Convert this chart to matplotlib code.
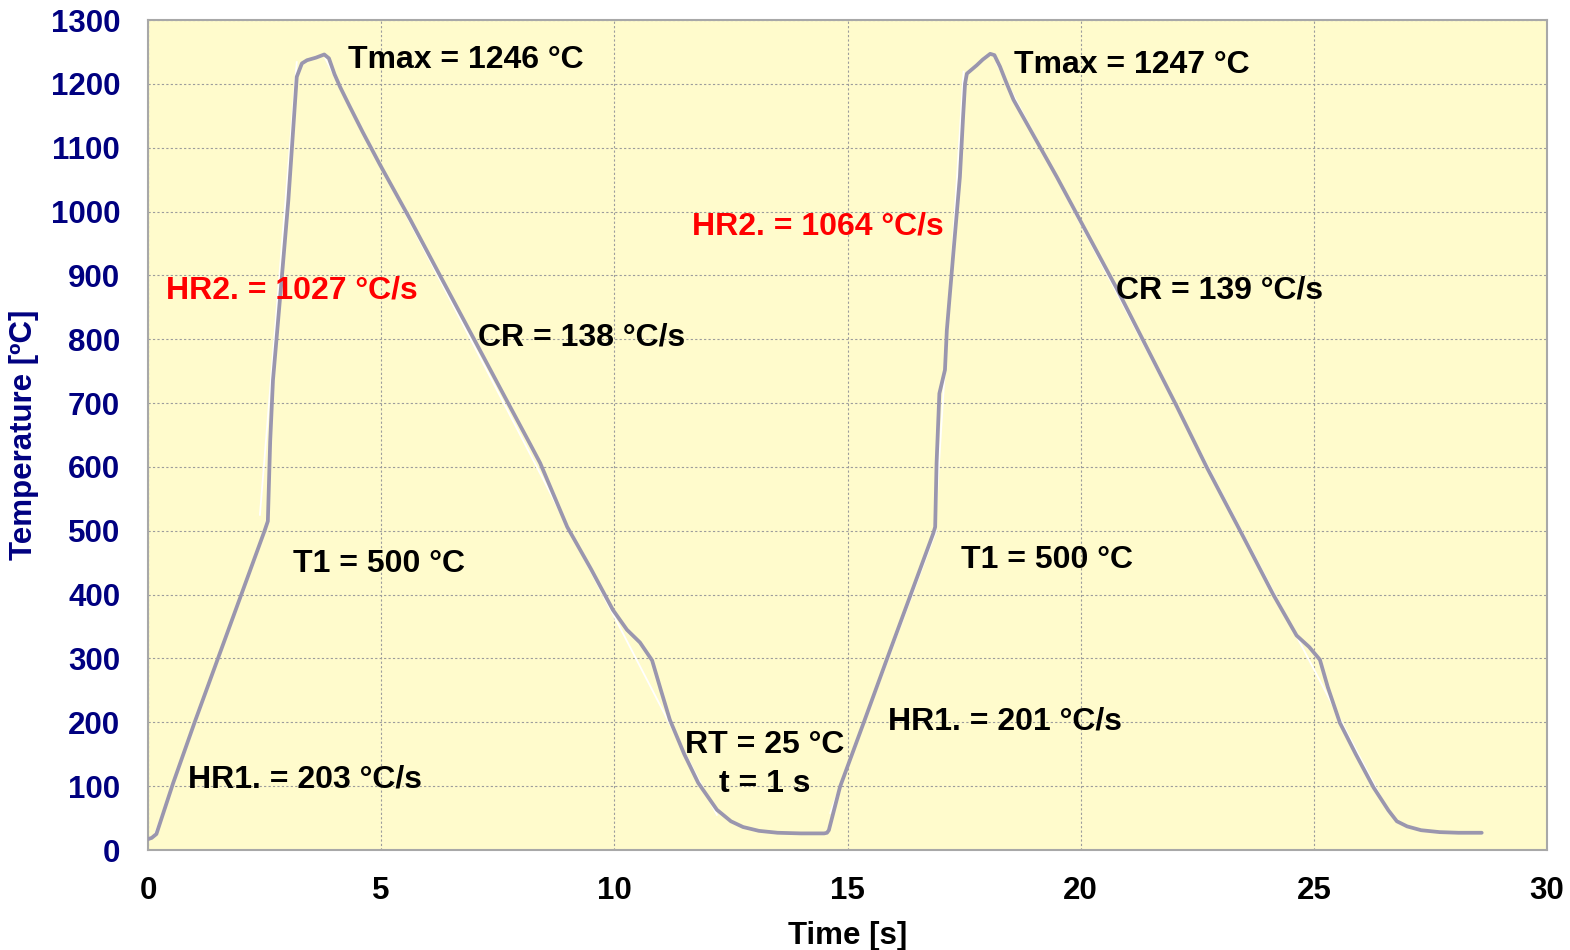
import matplotlib
matplotlib.use("Agg")
import matplotlib.pyplot as plt
import numpy as np

plt.rcParams['font.family'] = ['Liberation Sans', 'DejaVu Sans']
plt.rcParams['font.weight'] = 'bold'

# measured thermal cycle (gray curve)
time_meas = [0.0, 0.08, 0.18, 0.54, 1.0, 1.5, 2.0, 2.5, 2.57, 2.62, 2.68, 2.85, 3.01, 3.19, 3.3, 3.41, 3.6, 3.78,
             3.88, 4.0, 4.12, 4.33, 4.6, 4.97, 5.62, 6.26, 6.97, 7.70, 8.2, 8.41, 8.99, 9.5, 9.97, 10.27, 10.55,
             10.81, 11.0, 11.19, 11.5, 11.8, 12.2, 12.5, 12.76, 13.1, 13.5, 14.0, 14.5, 14.56,
             14.6, 14.84, 15.34, 15.84, 16.34, 16.84, 16.88, 16.91, 16.97, 17.09, 17.13, 17.27, 17.41, 17.48,
             17.52, 17.56, 17.77, 17.9, 18.06, 18.15, 18.27, 18.4, 18.56, 19.49, 20.77, 22.06, 22.70, 23.42,
             24.13, 24.63, 24.9, 25.13, 25.3, 25.56, 25.9, 26.28, 26.6, 26.78, 27.0, 27.3,
             27.7, 28.1, 28.6]
temp_meas = [17, 19, 25, 105, 200, 300, 400, 500, 515, 640, 736, 880, 1018, 1211, 1232, 1237, 1241, 1246,
             1240, 1215, 1195, 1164, 1125, 1074, 988, 900, 803, 703, 635, 606, 506, 440, 376, 345, 325,
             297, 250, 204, 150, 105, 63, 45, 36, 30, 27, 26, 26, 27,
             31, 99, 198, 298, 397, 496, 506, 606, 715, 752, 814, 935, 1054, 1150,
             1200, 1216, 1229, 1238, 1247, 1245, 1227, 1203, 1175, 1054, 880, 695, 600, 500,
             400, 336, 318, 298, 255, 199, 150, 98, 62, 45, 37, 31,
             28, 27, 27]

# programmed profile (thin white straight segments), NaN separates segments
time_prog = [0.15, 2.5, np.nan, 2.40, 3.19, np.nan, 3.8, 12.2, np.nan,
             14.63, 16.9, np.nan, 16.88, 17.49, np.nan, 18.2, 26.6]
temp_prog = [25, 500, np.nan, 525, 1234, np.nan, 1240, 55, np.nan,
             58, 500, np.nan, 510, 1219, np.nan, 1232, 60]

labels = ["Tmax = 1246 °C", "Tmax = 1247 °C", "HR2. = 1027 °C/s", "HR2. = 1064 °C/s",
          "CR = 138 °C/s", "CR = 139 °C/s", "T1 = 500 °C", "T1 = 500 °C",
          "HR1. = 203 °C/s", "HR1. = 201 °C/s"]
label_t = [4.29, 18.57, 0.39, 11.67, 7.08, 20.76, 3.11, 17.44, 0.86, 15.87]
label_T = [1237, 1230, 877, 976, 802, 877, 448, 454, 110, 201]
label_col = ['black', 'black', 'red', 'red', 'black', 'black', 'black', 'black', 'black', 'black']

fig = plt.figure(figsize=(15.7, 9.5), dpi=100)
ax = fig.add_axes([148/1570, 100/950, 1399/1570, 830/950])
ax.set_facecolor('#FFFBCC')

ax.plot(time_prog, temp_prog, color='white', lw=1.3, zorder=2)
ax.plot(time_meas, temp_meas, color='#9A96AE', lw=2.7, zorder=3,
        solid_joinstyle='round', solid_capstyle='round')

for s, t, T, c in zip(labels, label_t, label_T, label_col):
    ax.text(t, T, s, color=c, fontsize=23, fontweight='bold', ha='left', va='center', zorder=4)
ax.text(13.23, 164, "RT = 25 °C", fontsize=23, fontweight='bold', ha='center', va='center', zorder=4)
ax.text(13.23, 104, "t = 1 s", fontsize=23, fontweight='bold', ha='center', va='center', zorder=4)

ax.set_xlim(0, 30)
ax.set_ylim(0, 1300)
ax.set_xticks(np.arange(0, 31, 5))
ax.set_yticks(np.arange(0, 1301, 100))
ax.grid(True, color='#9C9C9C', lw=0.8, ls=(0, (2, 2)))
ax.set_axisbelow(True)
ax.tick_params(axis='both', length=0, labelsize=22.5)
ax.tick_params(axis='x', pad=19, labelcolor='black')
ax.tick_params(axis='y', pad=20, labelcolor='#000080')
for lab in ax.get_xticklabels() + ax.get_yticklabels():
    lab.set_fontweight('bold')
for sp in ax.spines.values():
    sp.set_color('#A8A8A8')
    sp.set_linewidth(1.5)

ax.set_xlabel("Time [s]", fontsize=22.5, fontweight='bold', color='black')
ax.set_ylabel("Temperature [ºC]", fontsize=22.5, fontweight='bold', color='#000080')
ax.xaxis.set_label_coords(0.5, -0.085)
ax.yaxis.set_label_coords(-0.078, 0.5)

fig.savefig("out.png", dpi=100, facecolor='white')
